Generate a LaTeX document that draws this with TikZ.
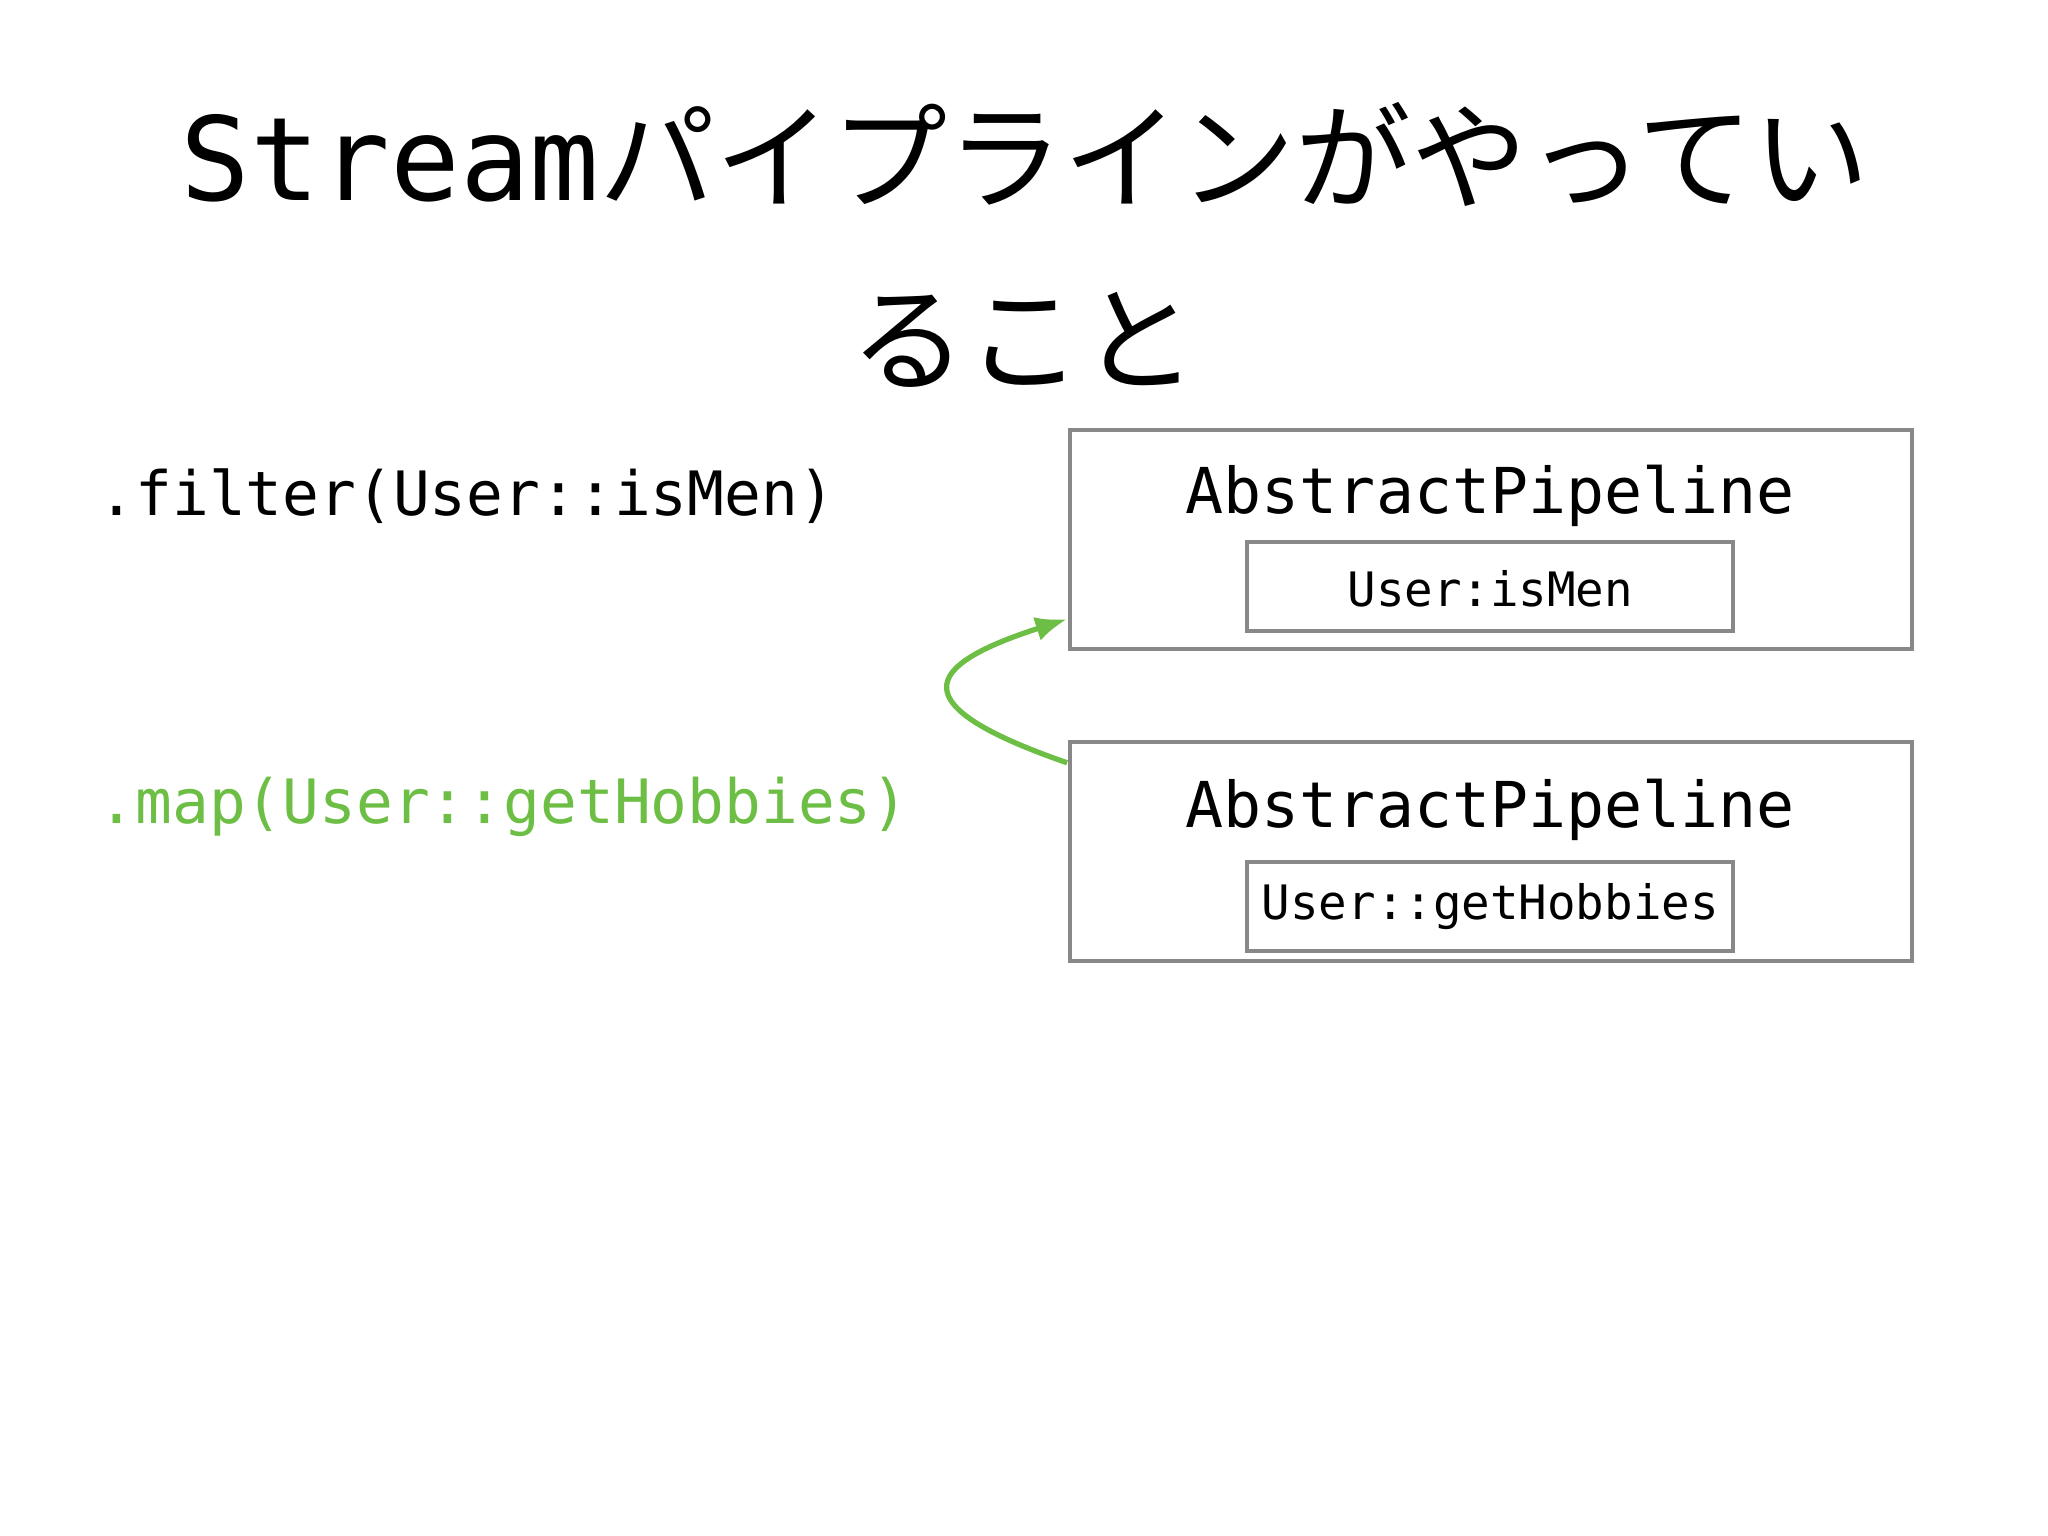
\documentclass[tikz,border=0pt]{standalone}
\usepackage{fontspec}
\usetikzlibrary{arrows.meta}
\setmonofont{DejaVu Sans Mono}
\newfontfamily\cjk{Noto Sans CJK JP}
\definecolor{grn}{HTML}{6DBE45}
\definecolor{bx}{HTML}{888888}
\begin{document}
\begin{tikzpicture}[x=0.01306cm,y=-0.01306cm,
  box/.style={draw=bx,line width=1.1pt,minimum width=#1,inner sep=0pt},
  code/.style={font=\ttfamily\fontsize{17.4}{20}\selectfont,inner sep=0pt}]
\useasboundingbox (0,0) rectangle (1568,1176);
\node[inner sep=0pt] (t1) at (785,118) {\fontsize{33}{36}\selectfont\ttfamily Stream\cjk\fontsize{33}{36}\selectfont パイプラインがやってい};
\node[inner sep=0pt] (t2) at (784,260) {\cjk\fontsize{33}{36}\selectfont ること};
\node[code,anchor=west] (f) at (75,380) {.filter(User::isMen)};
\node[code,anchor=west,text=grn] (m) at (75,618) {.map(User::getHobbies)};
\draw[bx,line width=1.1pt] (819,329) rectangle (1464,497);
\coordinate (b1l) at (817,474);
\node[code,font=\ttfamily\fontsize{18}{20}\selectfont] (a1) at (1141,380) {AbstractPipeline};
\draw[bx,line width=1.1pt] (955,415) rectangle (1327,483);
\node[code,font=\ttfamily\fontsize{13.5}{16}\selectfont] (u1) at (1141,451) {User:isMen};
\draw[bx,line width=1.1pt] (819,568) rectangle (1464,736);
\coordinate (b2l) at (817,584);
\node[code,font=\ttfamily\fontsize{18}{20}\selectfont] (a2) at (1141,620) {AbstractPipeline};
\draw[bx,line width=1.1pt] (955,660) rectangle (1327,728);
\node[code,font=\ttfamily\fontsize{13.5}{16}\selectfont] (u2) at (1141,694) {User::getHobbies};
\draw[grn,line width=1.5pt,-{Latex[length=9pt,width=7pt]}] (b2l) .. controls (690,540) and (705,510) .. (b1l);
\end{tikzpicture}
\end{document}
